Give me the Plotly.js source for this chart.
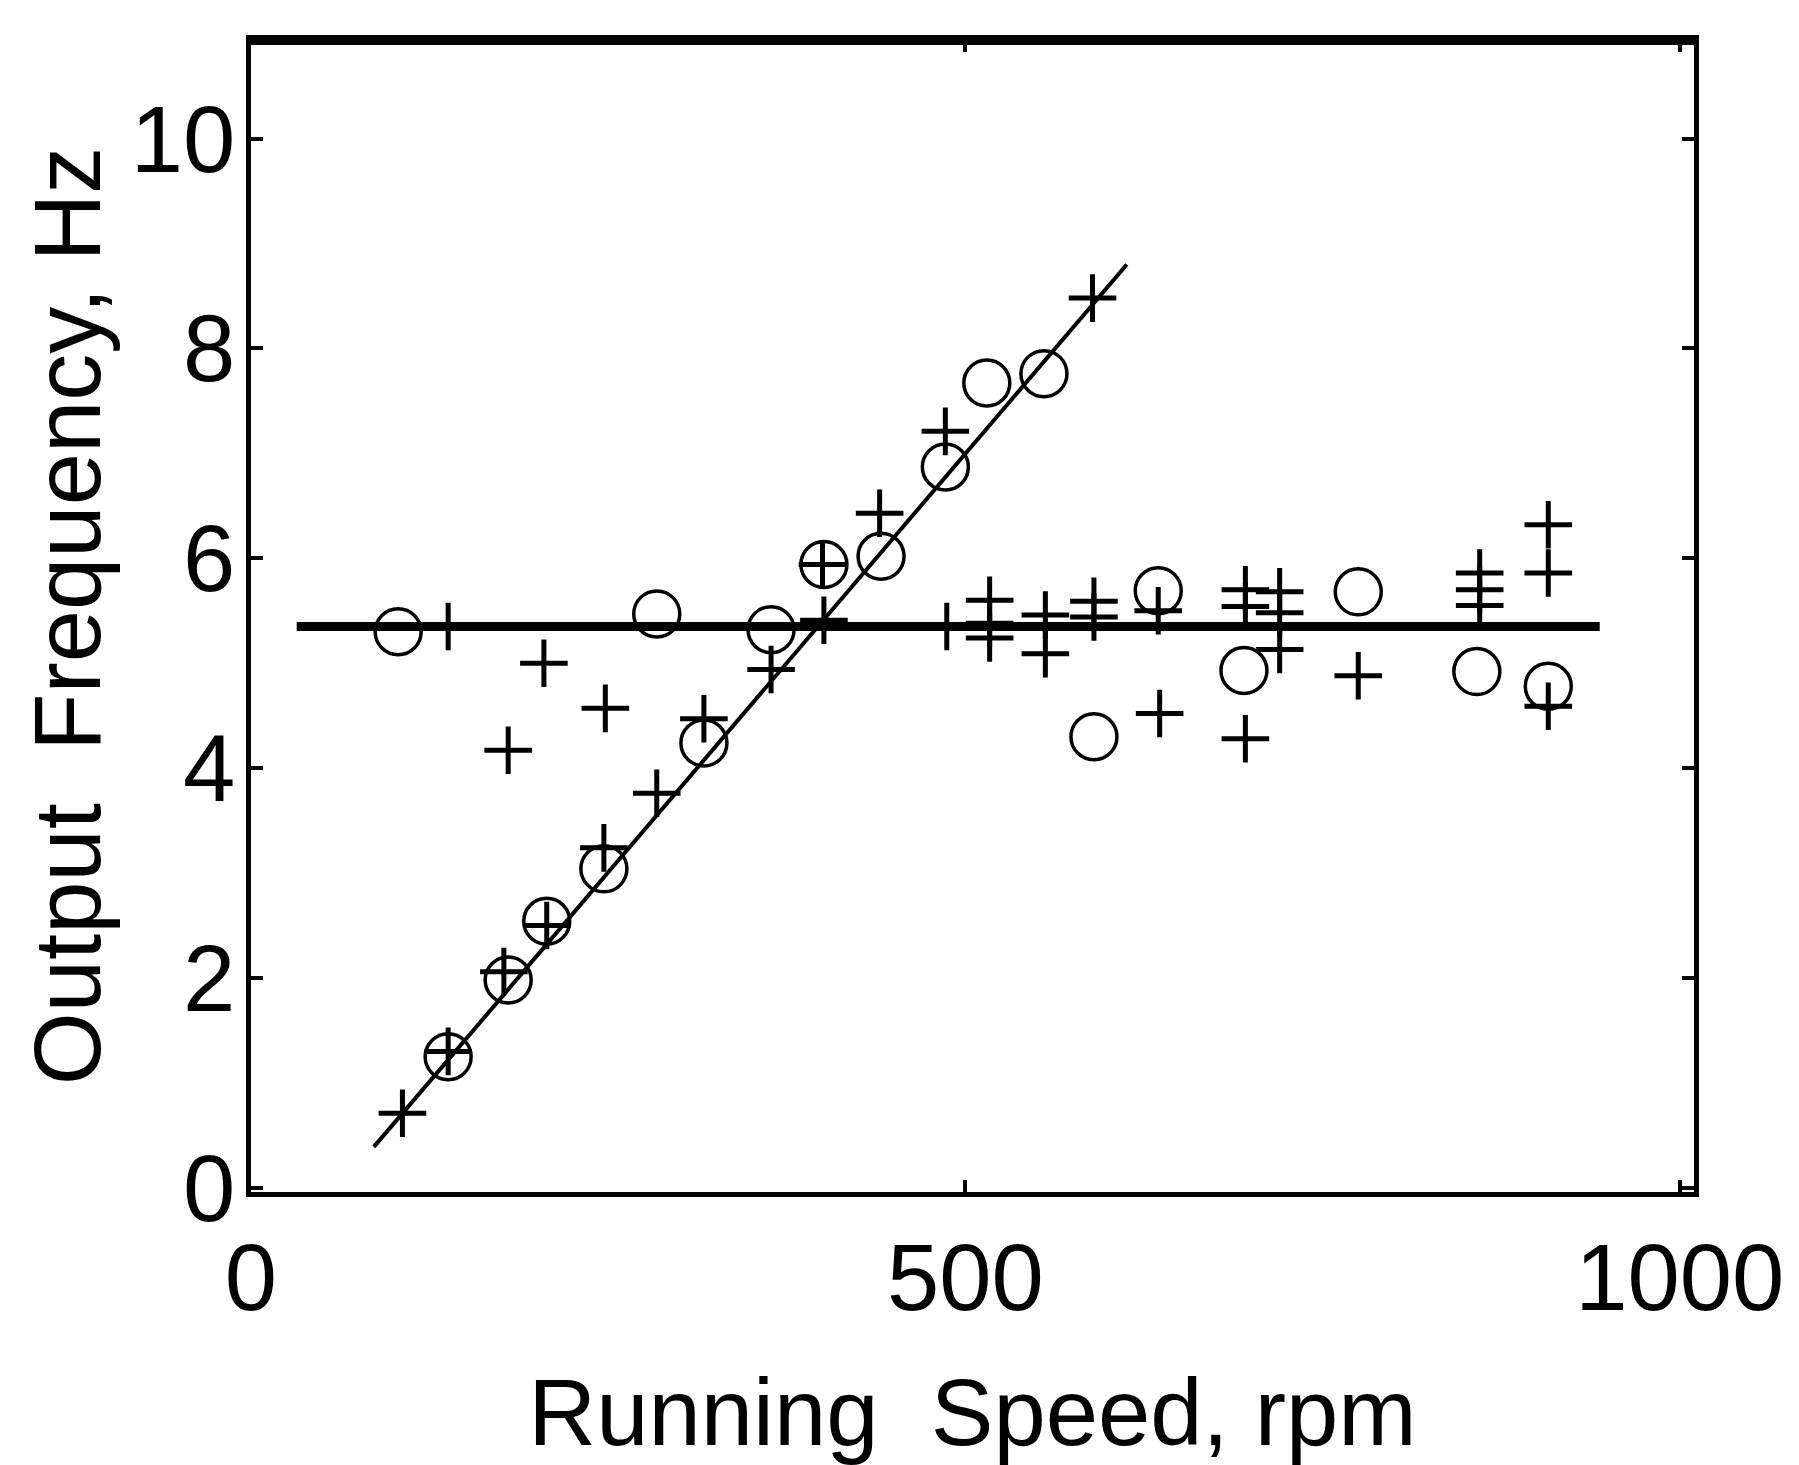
<!DOCTYPE html>
<html>
<head>
<meta charset="utf-8">
<script src="https://cdn.plot.ly/plotly-3.0.1.min.js"></script>
<style>html,body{margin:0;padding:0;background:#fff;}</style>
</head>
<body>
<div id="chart" style="width:1799px;height:1465px;"></div>
<script>
// Circle-marker measurements (rpm, Hz)
const circleX = [138, 180, 207, 247, 317, 401, 441, 486, 515, 555,
                 103, 284, 364, 590, 635, 695, 775, 858, 908];
const circleY = [1.25, 1.98, 2.54, 3.04, 4.24, 5.94, 6.02, 6.87, 7.67, 7.76,
                 5.30, 5.47, 5.32, 4.30, 5.69, 4.93, 5.68, 4.92, 4.78];

// Plus-marker measurements (rpm, Hz)
const plusX = [106, 138, 177, 207, 247, 284, 317, 364, 401, 440, 486, 589,
               138, 180, 205, 248, 400, 487, 517, 517, 517, 556, 556, 590, 590,
               635, 636, 696, 696, 696, 720, 720, 720, 775, 860, 860, 860, 908, 908, 908];
const plusY = [0.71, 1.30, 2.06, 2.50, 3.24, 3.76, 4.47, 4.94, 5.41, 6.43, 7.21, 8.48,
               5.35, 4.17, 5.00, 4.57, 5.94, 5.35, 5.60, 5.38, 5.24, 5.46, 5.09, 5.59, 5.44,
               5.50, 4.52, 5.70, 5.54, 4.28, 5.68, 5.48, 5.13, 4.88, 5.86, 5.70, 5.55, 6.32, 5.86, 4.59];

// Fitted lines
const risingLineX = [86, 613];
const risingLineY = [0.39, 8.80];
const flatLineX = [32, 944];
const flatLineY = [5.35, 5.35];

// Axis ticks
const xTickVals = [0, 500, 1000];
const xTickText = ['0', '500', '1000'];
const yTickVals = [0, 2, 4, 6, 8, 10];
const yTickText = ['0', '2', '4', '6', '8', '10'];

const FONT = 'Liberation Sans, Arial, Helvetica, sans-serif';

const traces = [
  {x: flatLineX, y: flatLineY, type: 'scatter', mode: 'lines',
   line: {color: '#000', width: 9}, hoverinfo: 'skip', showlegend: false},
  {x: risingLineX, y: risingLineY, type: 'scatter', mode: 'lines',
   line: {color: '#000', width: 4}, hoverinfo: 'skip', showlegend: false},
  {x: circleX, y: circleY, type: 'scatter', mode: 'markers', name: 'o',
   marker: {symbol: 'circle-open', size: 46, color: '#000', line: {color: '#000', width: 3.5}},
   showlegend: false},
  {x: plusX, y: plusY, type: 'scatter', mode: 'markers', name: '+',
   marker: {symbol: 'cross-thin-open', size: 34, color: '#000', line: {color: '#000', width: 5}},
   showlegend: false}
];

const axisCommon = {
  showgrid: false, zeroline: false, showline: true, linecolor: '#000', linewidth: 5,
  mirror: 'ticks', ticks: 'inside', ticklen: 12, tickwidth: 4, tickcolor: '#000',
  tickfont: {family: FONT, size: 94, color: '#000'}
};

const layout = {
  width: 1799, height: 1465,
  paper_bgcolor: '#fff', plot_bgcolor: '#fff',
  margin: {l: 251, r: 105, t: 40, b: 273, pad: 0},
  showlegend: false,
  font: {family: FONT, color: '#000'},
  xaxis: Object.assign({}, axisCommon, {
    range: [0, 1010], tickmode: 'array', tickvals: xTickVals, ticktext: xTickText,
    ticklabelstandoff: 0, automargin: false,
    title: {text: 'Running\u00a0 Speed, rpm', font: {family: FONT, size: 94, color: '#000'}, standoff: 80}
  }),
  yaxis: Object.assign({}, axisCommon, {
    range: [-0.04, 10.94], tickmode: 'array', tickvals: yTickVals, ticktext: yTickText,
    ticklabelstandoff: -8, automargin: false,
    title: {text: 'Output\u00a0 Frequency, Hz', font: {family: FONT, size: 94, color: '#000'}, standoff: 0}
  }),
  shapes: [
    {type: 'line', xref: 'paper', yref: 'paper', x0: 0, x1: 1, y0: 1, y1: 1,
     line: {color: '#000', width: 10}}
  ]
};

Plotly.newPlot('chart', traces, layout, {displayModeBar: false, staticPlot: true});
</script>
</body>
</html>
